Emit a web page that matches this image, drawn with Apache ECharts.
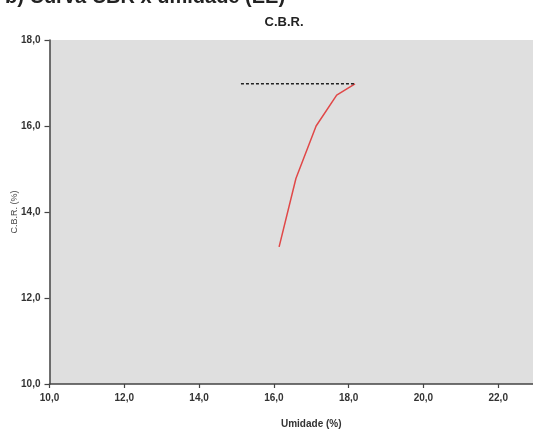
<!DOCTYPE html>
<html>
<head>
<meta charset="utf-8">
<script src="https://cdn.jsdelivr.net/npm/echarts@6/dist/echarts.min.js"></script>
<style>
html,body{margin:0;padding:0;background:#fff;}
#chart{width:533px;height:433px;}
</style>
</head>
<body>
<div id="chart"></div>
<script>
// Umidade (%) versus C.B.R. (%)
const umidade = [16.14, 16.59, 17.13, 17.68, 18.17];
const cbr = [13.19, 14.78, 16.0, 16.72, 16.98];
// horizontal reference at the maximum C.B.R.
const refX = [15.12, 18.17];
const refY = [16.98, 16.98];

const xTicks = { min: 10, max: 24, interval: 2 };
const yTicks = { min: 10, max: 18, interval: 2 };

const fmt = v => v.toFixed(1).replace('.', ',');

const chart = echarts.init(document.getElementById('chart'));
chart.setOption({
  animation: false,
  backgroundColor: '#ffffff',
  title: [
    {
      text: 'C.B.R.',
      left: 279, top: 11, textAlign: 'center',
      textStyle: { fontFamily: 'Liberation Sans', fontSize: 13, fontWeight: 'bold', color: '#222' }
    },
    {
      text: 'b) Curva CBR x umidade (EE)',
      left: 0, top: -18,
      textStyle: { fontFamily: 'Liberation Sans', fontSize: 20, fontWeight: 'bold', color: '#222' }
    }
  ],
  grid: {
    left: 49.5, top: 40, right: -40, bottom: 49,
    outerBoundsMode: 'none', containLabel: false,
    show: true, backgroundColor: '#dfdfdf', borderWidth: 0
  },
  xAxis: {
    type: 'value',
    min: xTicks.min, max: xTicks.max, interval: xTicks.interval,
    name: 'Umidade (%)', nameLocation: 'middle', nameGap: 35, nameMoveOverlap: false,
    nameTextStyle: { fontFamily: 'Liberation Sans', fontSize: 10, fontWeight: 'bold', color: '#333' },
    axisLine: { lineStyle: { color: '#444', width: 1.5 } },
    axisTick: { show: true, length: 4, lineStyle: { color: '#444', width: 1.2 } },
    axisLabel: { formatter: fmt, fontFamily: 'Liberation Sans', fontSize: 10, fontWeight: 'bold', color: '#333', margin: 9 },
    splitLine: { show: false }
  },
  yAxis: {
    type: 'value',
    min: yTicks.min, max: yTicks.max, interval: yTicks.interval,
    name: 'C.B.R. (%)', nameLocation: 'middle', nameGap: 30, nameRotate: 90, nameMoveOverlap: false,
    nameTextStyle: { fontFamily: 'Liberation Sans', fontSize: 9, color: '#444' },
    axisLine: { show: true, lineStyle: { color: '#444', width: 1.5 } },
    axisTick: { show: true, length: 5, lineStyle: { color: '#444', width: 1.2 } },
    axisLabel: { formatter: fmt, fontFamily: 'Liberation Sans', fontSize: 10, fontWeight: 'bold', color: '#333', margin: 9 },
    splitLine: { show: false }
  },
  series: [
    {
      type: 'line',
      data: umidade.map((x, i) => [x, cbr[i]]),
      showSymbol: false,
      lineStyle: { color: '#e04848', width: 1.5 }
    },
    {
      type: 'line',
      data: refX.map((x, i) => [x, refY[i]]),
      showSymbol: false,
      lineStyle: { color: '#222', width: 1.5, type: [3, 2] }
    }
  ]
});
</script>
</body>
</html>
